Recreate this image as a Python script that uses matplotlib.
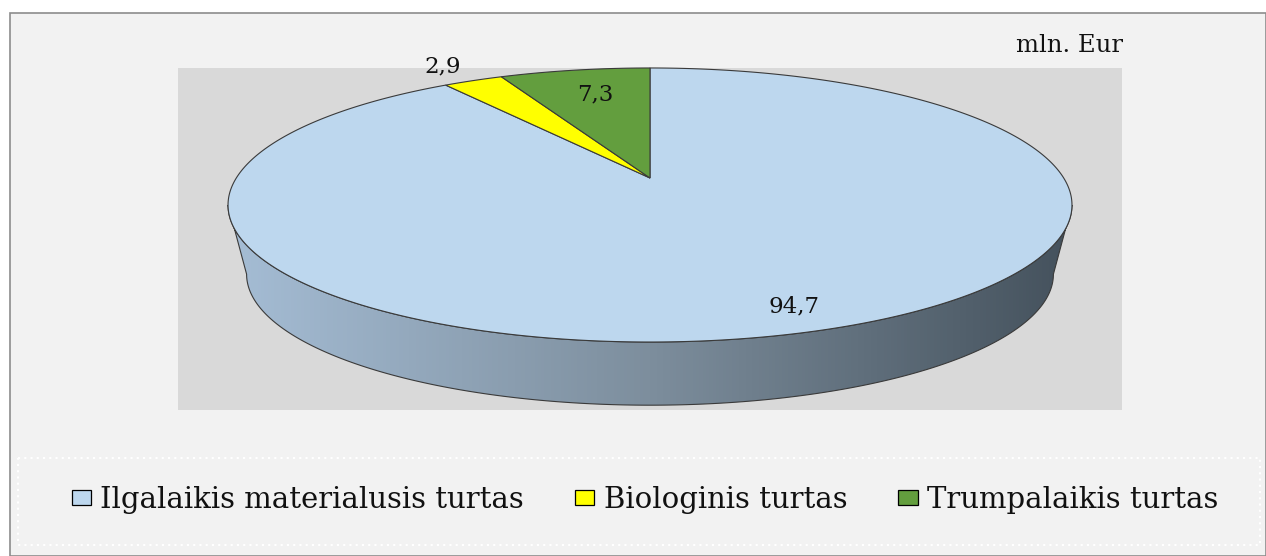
import numpy as np
import matplotlib
matplotlib.use("Agg")
import matplotlib.pyplot as plt
from matplotlib.patches import Polygon, Rectangle, Patch
from matplotlib.colors import LinearSegmentedColormap

# data
categories = ["Ilgalaikis materialusis turtas", "Biologinis turtas", "Trumpalaikis turtas"]
values = [94.7, 2.9, 7.3]
labels = ["94,7", "2,9", "7,3"]
colors = ["#BDD7EE", "#FFFF00", "#639E3E"]
unit = "mln. Eur"

plt.rcParams["font.family"] = ["DejaVu Serif", "Liberation Serif"]

W, H = 1266, 556
fig = plt.figure(figsize=(W / 100, H / 100), dpi=100)
fig.patch.set_facecolor("white")
ax = fig.add_axes([0, 0, 1, 1])
ax.set_xlim(0, W)
ax.set_ylim(H, 0)
ax.axis("off")

# chart frame + plot area
ax.add_patch(Rectangle((10, 13), W - 10, H - 13, facecolor="#F2F2F2", edgecolor="#8C8C8C", lw=1.2))
ax.add_patch(Rectangle((178, 68), 944, 342, facecolor="#D9D9D9", edgecolor="none"))

# 3d pie with a bit of perspective (pixel coordinates)
cx, cy0 = 650, 178          # pie centre on screen
A, B, k = 413.7, 131.7, 0.197
s_bot, y_van = 0.956, 1778  # bottom face: shrink towards vanishing point


def proj(theta_deg, r=1.0, ry=None):
    t = np.radians(theta_deg)
    ry = r if ry is None else ry
    u, v = r * np.cos(t), ry * np.sin(t)
    w = 1 + k * v
    return cx + A * u / w, cy0 - B * v / w


def bottom(x, y):
    return cx + (x - cx) * s_bot, y_van + (y - y_van) * s_bot


# side wall (front part) with gradient
t0 = np.degrees(np.arcsin(k))
th = np.linspace(180 + t0, 360 - t0, 240)
xt, yt = proj(th)
xb, yb = bottom(xt, yt)
side = np.concatenate([np.column_stack([xt, yt]), np.column_stack([xb[::-1], yb[::-1]])])
side_poly = Polygon(side, closed=True, facecolor="none", edgecolor="#3A3A3A", lw=0.8, zorder=3)
ax.add_patch(side_poly)
cmap = LinearSegmentedColormap.from_list("side", ["#A5BDD5", "#7D8E9D", "#44515C"])
grad = np.linspace(0, 1, 256).reshape(1, -1)
im = ax.imshow(grad, cmap=cmap, extent=(xt.min(), xt.max(), yb.max() + 2, yt.min() - 2),
               aspect="auto", zorder=2)
im.set_clip_path(side_poly)

# top face wedges, clockwise from 12 o'clock
total = sum(values)
start = 90.0
mids = []
for v, c in zip(values, colors):
    sweep = 360.0 * v / total
    th = np.linspace(start, start - sweep, max(int(sweep * 2), 4))
    xs, ys = proj(th)
    pts = np.vstack([[cx, cy0], np.column_stack([xs, ys])])
    ax.add_patch(Polygon(pts, closed=True, facecolor=c, edgecolor="#3A3A3A", lw=0.8, zorder=4))
    mids.append(start - sweep / 2)
    start -= sweep

# data labels
label_r = [(0.97, 0.86), (1.2, 1.17), (0.7, 0.74)]
for lab, m, (rx, ry) in zip(labels, mids, label_r):
    x, y = proj(m, rx, ry)
    ax.text(x, y, lab, fontsize=16.5, ha="center", va="center", color="#111111", zorder=6)

ax.text(1070, 45, unit, fontsize=17.5, ha="center", va="center", color="#111111")

# legend
ax.add_patch(Rectangle((18, 458), 1242, 87, facecolor="none", edgecolor="white", lw=1.5, ls=(0, (1, 2))))
handles = [Patch(facecolor=c, edgecolor="black", lw=0.9) for c in colors]
leg = fig.legend(handles, categories, loc="center", bbox_to_anchor=(645 / W, 1 - 500 / H), ncol=3,
                 frameon=False, fontsize=21, handlelength=0.66, handleheight=0.42, handletextpad=0.32,
                 columnspacing=1.75)
for t in leg.get_texts():
    t.set_color("#111111")

fig.savefig("out.png", dpi=100)
